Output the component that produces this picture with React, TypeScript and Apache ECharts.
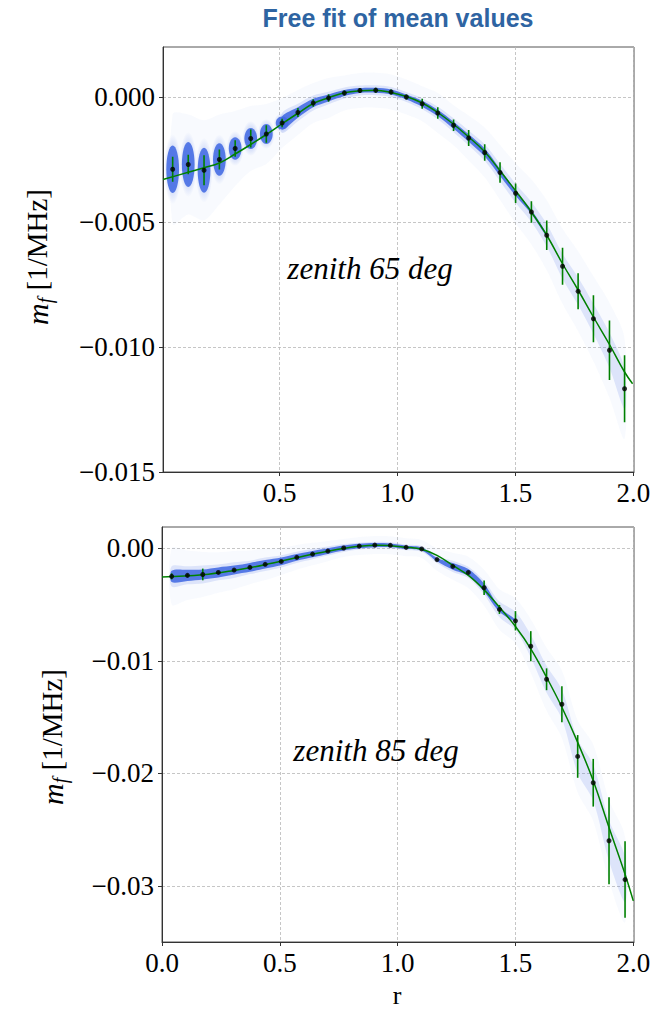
import React, { useEffect, useRef } from "react";
import * as echarts from "echarts";

// ---------- zenith 65 deg (top panel) ----------
const r65 = [0.047, 0.113, 0.18, 0.245, 0.312, 0.378, 0.444, 0.511, 0.578, 0.643, 0.708, 0.775, 0.841, 0.908, 0.973, 1.038, 1.105, 1.171, 1.238, 1.302, 1.37, 1.435, 1.501, 1.568, 1.633, 1.7, 1.766, 1.831, 1.899, 1.963];
const m65 = [-0.00289, -0.0027, -0.00293, -0.0025, -0.00206, -0.00166, -0.00148, -0.00104, -0.00062, -0.00024, -0.00004, 0.00016, 0.00026, 0.00027, 0.0002, 0.0, -0.00027, -0.00064, -0.00113, -0.00164, -0.00222, -0.00302, -0.00385, -0.0046, -0.00553, -0.00677, -0.00777, -0.00887, -0.01013, -0.01167];
const err65 = [0.0005, 0.00039, 0.0006, 0.0004, 0.00033, 0.00036, 0.00035, 0.00017, 0.00018, 0.00015, 0.00015, 0.0001, 0.0001, 0.0001, 0.0001, 0.0001, 0.0002, 0.00023, 0.00023, 0.00032, 0.00033, 0.00041, 0.00039, 0.00043, 0.00059, 0.00074, 0.00072, 0.00094, 0.00119, 0.00134];
const core65 = [0.00095, 0.0009, 0.0009, 0.00065, 0.00045, 0.00042, 0.0004, 0.00026, 0.00021, 0.00017, 0.00014, 0.00012, 0.0001, 0.0001, 0.0001, 0.0001, 0.00012, 0.00013, 0.00014, 0.00015, 0.00016, 0.00014, 0.0001, 0.00008, 0.00006, 0, 0, 0, 0, 0];
const halo65 = [0.0014, 0.0013, 0.0013, 0.001, 0.0007, 0.0007, 0.0006, 0.0004, 0.00035, 0.0003, 0.00025, 0.00022, 0.0002, 0.0002, 0.0002, 0.0002, 0.00022, 0.00025, 0.00028, 0.0003, 0.00033, 0.00035, 0.00038, 0.0004, 0.00045, 0.0005, 0.00055, 0.0006, 0.0007, 0.0008];
const cloud65 = [0.0022, 0.002, 0.002, 0.0018, 0.0015, 0.0013, 0.0012, 0.001, 0.0009, 0.0008, 0.0008, 0.0007, 0.0007, 0.0007, 0.0007, 0.0007, 0.0007, 0.0008, 0.0008, 0.0009, 0.001, 0.0011, 0.0012, 0.0013, 0.0014, 0.0015, 0.0016, 0.0017, 0.0019, 0.002];
const fitR65 = [0.006, 0.113, 0.18, 0.245, 0.312, 0.378, 0.444, 0.511, 0.578, 0.643, 0.708, 0.775, 0.841, 0.908, 0.973, 1.038, 1.105, 1.171, 1.238, 1.302, 1.37, 1.435, 1.501, 1.568, 1.633, 1.7, 1.766, 1.831, 1.899, 1.963, 1.997];
const fitM65 = [-0.0033, -0.00301, -0.00283, -0.00264, -0.00228, -0.0019, -0.0015, -0.00107, -0.00065, -0.00026, -0.00003, 0.00017, 0.00025, 0.00027, 0.00018, 0.00002, -0.00024, -0.00062, -0.00109, -0.0016, -0.00219, -0.00295, -0.00375, -0.0046, -0.00553, -0.00667, -0.00772, -0.0088, -0.0099, -0.011, -0.01147];

// ---------- zenith 85 deg (bottom panel) ----------
const r85 = [0.041, 0.108, 0.173, 0.239, 0.306, 0.373, 0.438, 0.506, 0.572, 0.639, 0.704, 0.771, 0.837, 0.903, 0.969, 1.036, 1.102, 1.167, 1.234, 1.3, 1.367, 1.432, 1.5, 1.565, 1.632, 1.697, 1.764, 1.83, 1.897, 1.965];
const m85 = [-0.00249, -0.0024, -0.00232, -0.00214, -0.00193, -0.00169, -0.00142, -0.00116, -0.0008, -0.00051, -0.00024, 0.00003, 0.0002, 0.00029, 0.00027, 0.00009, -0.00005, -0.001, -0.0016, -0.00214, -0.0035, -0.00543, -0.00644, -0.0087, -0.01164, -0.01386, -0.0185, -0.02084, -0.026, -0.02945];
const err85 = [0.00027, 0.00012, 0.00052, 0.0001, 0.0001, 0.0001, 0.0001, 0.0001, 0.0001, 0.0001, 0.00008, 0.00008, 0.00008, 0.00008, 0.00008, 0.00008, 0.00008, 0.00008, 0.00008, 0.0001, 0.00064, 0.0004, 0.00086, 0.00134, 0.00097, 0.0016, 0.0019, 0.00212, 0.00386, 0.0034];
const core85 = [0.0005, 0.0005, 0.00045, 0.00045, 0.0004, 0.0004, 0.00038, 0.00035, 0.0003, 0.00028, 0.00025, 0.00022, 0.0002, 0.00018, 0.00016, 0.00015, 0.00014, 0.00015, 0.0003, 0.0003, 0.00035, 0.0002, 0.0001, 0, 0, 0, 0, 0, 0, 0];
const halo85 = [0.0009, 0.0008, 0.0008, 0.0007, 0.0007, 0.0006, 0.0006, 0.00055, 0.0005, 0.00045, 0.0004, 0.00035, 0.0003, 0.0003, 0.00028, 0.00025, 0.00025, 0.0003, 0.0005, 0.0005, 0.0006, 0.0007, 0.0008, 0.001, 0.0012, 0.0013, 0.0015, 0.0016, 0.0018, 0.002];
const cloud85 = [0.0025, 0.0022, 0.002, 0.0018, 0.0017, 0.0015, 0.0014, 0.0012, 0.0011, 0.001, 0.0009, 0.0008, 0.0008, 0.0008, 0.0008, 0.0008, 0.0008, 0.001, 0.0012, 0.0014, 0.0016, 0.0018, 0.002, 0.0024, 0.0028, 0.003, 0.0032, 0.0034, 0.0036, 0.0038];
const fitR85 = [0.0, 0.173, 0.306, 0.438, 0.572, 0.704, 0.837, 0.92, 1.036, 1.102, 1.167, 1.234, 1.3, 1.367, 1.432, 1.5, 1.565, 1.632, 1.697, 1.764, 1.83, 1.897, 1.965, 2.0];
const fitM85 = [-0.00255, -0.00235, -0.00196, -0.00145, -0.00082, -0.00025, 0.00018, 0.00028, 0.0001, -0.00008, -0.00062, -0.00151, -0.0024, -0.00368, -0.00522, -0.00695, -0.00893, -0.01146, -0.01413, -0.01725, -0.02066, -0.02482, -0.02897, -0.03134];

// ---------- ticks ----------
const xTicksTop = [0.5, 1.0, 1.5, 2.0];
const xTicksBottom = [0.0, 0.5, 1.0, 1.5, 2.0];
const yTicksTop = [-0.015, -0.01, -0.005, 0.0];
const yTicksBottom = [-0.03, -0.02, -0.01, 0.0];

const SERIF = '"Liberation Serif", "DejaVu Serif", serif';
const BLUE_CORE = "rgba(66,106,226,0.88)";
const BLUE_HALO = "rgba(66,106,226,0.15)";
const BLUE_CLOUD = "rgba(66,106,226,0.035)";
const GREEN = "#008000";

function bandSeries(idx: number, rs: number[], ms: number[], sp: number[], start: number, fill: string, z: number) {
  return {
    type: "custom",
    xAxisIndex: idx,
    yAxisIndex: idx,
    clip: true,
    z,
    silent: true,
    data: [[rs[0], ms[0]]],
    encode: { x: 0, y: 1 },
    renderItem: (params: any, api: any) => {
      if (params.dataIndex !== 0) return null;
      const up: number[][] = [];
      const lo: number[][] = [];
      for (let i = start; i < rs.length; i++) {
        if (!(sp[i] > 0)) continue;
        up.push(api.coord([rs[i], ms[i] + sp[i]]));
        lo.push(api.coord([rs[i], ms[i] - sp[i]]));
      }
      if (up.length < 2) return null;
      return {
        type: "polygon",
        shape: { points: up.concat(lo.reverse()), smooth: 0.3 },
        style: { fill, stroke: null },
      };
    },
  };
}

function radial(inner: number, mid: number) {
  return {
    type: "radial",
    x: 0.5,
    y: 0.5,
    r: 0.5,
    colorStops: [
      { offset: 0, color: `rgba(66,106,226,${inner})` },
      { offset: 0.7, color: `rgba(66,106,226,${mid})` },
      { offset: 1, color: "rgba(66,106,226,0)" },
    ],
  };
}

function blobSeries(idx: number, rs: number[], ms: number[], sp: number[], count: number, halfW: number, fill: any, z: number) {
  return {
    type: "custom",
    xAxisIndex: idx,
    yAxisIndex: idx,
    clip: true,
    z,
    silent: true,
    data: rs.slice(0, count).map((r, i) => [r, ms[i], sp[i]]),
    encode: { x: 0, y: 1 },
    renderItem: (params: any, api: any) => {
      const r = api.value(0);
      const m = api.value(1);
      const s = api.value(2);
      const c = api.coord([r, m]);
      const t = api.coord([r, m + s]);
      const rx = api.size([halfW, 0])[0];
      return {
        type: "ellipse",
        shape: { cx: c[0], cy: c[1], rx, ry: Math.abs(c[1] - t[1]) },
        style: { fill, stroke: null },
      };
    },
  };
}

function errSeries(idx: number, rs: number[], ms: number[], es: number[]) {
  return {
    type: "custom",
    xAxisIndex: idx,
    yAxisIndex: idx,
    z: 6,
    silent: true,
    data: rs.map((r, i) => [r, ms[i], es[i]]),
    encode: { x: 0, y: 1 },
    renderItem: (params: any, api: any) => {
      const r = api.value(0);
      const m = api.value(1);
      const e = api.value(2);
      const a = api.coord([r, m + e]);
      const b = api.coord([r, m - e]);
      return {
        type: "line",
        shape: { x1: a[0], y1: a[1], x2: b[0], y2: b[1] },
        style: { stroke: GREEN, lineWidth: 1.6 },
      };
    },
  };
}

const fmtY = (d: number) => (v: number) => (v < -1e-9 ? "\u2212" : "") + Math.abs(v).toFixed(d);

function xAxis(idx: number, min: number, ticks: number[]) {
  return {
    type: "value",
    gridIndex: idx,
    min,
    max: 2.003,
    axisLine: { show: true, onZero: false, lineStyle: { color: "#333", width: 1 } },
    axisTick: { show: true, inside: false, length: 4, customValues: ticks, lineStyle: { color: "#333" } },
    axisLabel: {
      customValues: ticks,
      formatter: (v: number) => v.toFixed(1),
      fontFamily: SERIF,
      fontSize: 27,
      color: "#000",
      margin: 7,
    },
    splitLine: { show: true, lineStyle: { type: [3, 2], color: "#b8b8b8", width: 0.8 } },
  };
}

function yAxis(idx: number, min: number, max: number, ticks: number[], d: number) {
  return {
    type: "value",
    gridIndex: idx,
    min,
    max,
    axisLine: { show: true, onZero: false, lineStyle: { color: "#333", width: 1 } },
    axisTick: { show: true, inside: false, length: 4, customValues: ticks, lineStyle: { color: "#333" } },
    axisLabel: {
      customValues: ticks,
      formatter: fmtY(d),
      fontFamily: SERIF,
      fontSize: 27,
      color: "#000",
      margin: 8,
    },
    splitLine: { show: true, lineStyle: { type: [3, 2], color: "#b8b8b8", width: 0.8 } },
  };
}

function panelSeries(idx: number, rs: number[], ms: number[], es: number[], core: number[], halo: number[], cloud: number[], blobs: number, fitR: number[], fitM: number[]) {
  const list: any[] = [
    bandSeries(idx, rs, ms, cloud, 0, BLUE_CLOUD, 1),
    bandSeries(idx, rs, ms, halo, blobs > 0 ? blobs - 1 : 0, BLUE_HALO, 2),
    bandSeries(idx, rs, ms, core, blobs > 0 ? blobs - 1 : 0, BLUE_CORE, 3),
  ];
  if (blobs > 0) {
    list.push(blobSeries(idx, rs, ms, halo, blobs, 0.036, radial(0.3, 0.15), 2));
    list.push(blobSeries(idx, rs, ms, core, blobs, 0.027, BLUE_CORE, 3));
  }
  list.push({
    type: "line",
    xAxisIndex: idx,
    yAxisIndex: idx,
    data: fitR.map((r, i) => [r, fitM[i]]),
    smooth: 0.4,
    showSymbol: false,
    symbol: "none",
    z: 5,
    silent: true,
    lineStyle: { color: GREEN, width: 1.5 },
  });
  list.push(errSeries(idx, rs, ms, es));
  list.push({
    type: "scatter",
    xAxisIndex: idx,
    yAxisIndex: idx,
    data: rs.map((r, i) => [r, ms[i]]),
    symbol: "circle",
    symbolSize: 5,
    z: 7,
    silent: true,
    itemStyle: { color: "#000" },
  });
  return list;
}

export default function App() {
  const ref = useRef<HTMLDivElement>(null);
  useEffect(() => {
    if (!ref.current) return;
    const chart = echarts.init(ref.current, null, { renderer: "svg" });
    const option: any = {
      animation: false,
      backgroundColor: "#fff",
      grid: [
        { left: 163, top: 47, width: 471, height: 425, show: true, borderColor: "#555", borderWidth: 1, backgroundColor: "transparent" },
        { left: 162, top: 527, width: 472, height: 415, show: true, borderColor: "#555", borderWidth: 1, backgroundColor: "transparent" },
      ],
      xAxis: [xAxis(0, 0.006, xTicksTop), xAxis(1, 0.0, xTicksBottom)],
      yAxis: [yAxis(0, -0.015, 0.002, yTicksTop, 3), yAxis(1, -0.035, 0.0019, yTicksBottom, 2)],
      series: [
        ...panelSeries(0, r65, m65, err65, core65, halo65, cloud65, 8, fitR65, fitM65),
        ...panelSeries(1, r85, m85, err85, core85, halo85, cloud85, 0, fitR85, fitM85),
      ],
      graphic: [
        {
          type: "text",
          x: 398,
          y: 18,
          style: { text: "Free fit of mean values", font: 'bold 25px "Liberation Sans", Arial, sans-serif', fill: "#2e64a2", textAlign: "center", textVerticalAlign: "middle" },
        },
        {
          type: "text",
          x: 370,
          y: 268,
          z: 10,
          style: { text: "zenith 65 deg", font: 'italic 31px "Liberation Serif", serif', fill: "#000", textAlign: "center", textVerticalAlign: "middle" },
        },
        {
          type: "text",
          x: 376,
          y: 750,
          z: 10,
          style: { text: "zenith 85 deg", font: 'italic 31px "Liberation Serif", serif', fill: "#000", textAlign: "center", textVerticalAlign: "middle" },
        },
        {
          type: "text",
          x: 397,
          y: 995,
          style: { text: "r", font: '26px "Liberation Serif", serif', fill: "#000", textAlign: "center", textVerticalAlign: "middle" },
        },
        ...[
          [37, 257],
          [52, 737],
        ].map(([x, y]) => ({
          type: "text",
          x,
          y,
          rotation: Math.PI / 2,
          style: {
            text: "{i|m}{s|f}{n| [1/MHz]}",
            textAlign: "center",
            textVerticalAlign: "middle",
            fill: "#000",
            rich: {
              i: { fontFamily: SERIF, fontStyle: "italic", fontSize: 30, lineHeight: 36, verticalAlign: "middle" },
              s: { fontFamily: SERIF, fontStyle: "italic", fontSize: 20, lineHeight: 36, verticalAlign: "bottom" },
              n: { fontFamily: SERIF, fontSize: 29, lineHeight: 36, verticalAlign: "middle" },
            },
          },
        })),
      ],
    };
    chart.setOption(option);
    return () => chart.dispose();
  }, []);
  return <div ref={ref} style={{ position: "fixed", left: 0, top: 0, width: 664, height: 1011 }} />;
}
